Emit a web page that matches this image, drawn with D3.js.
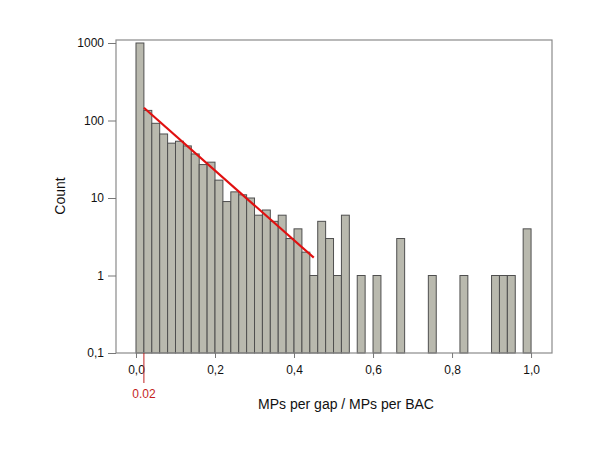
<!DOCTYPE html>
<html>
<head>
<meta charset="utf-8">
<script src="https://cdn.jsdelivr.net/npm/d3@7"></script>
<style>
  body { margin: 0; background: #fff; }
  text { font-family: "Liberation Sans", Arial, sans-serif; }
</style>
</head>
<body>
<svg id="chart"></svg>
<script>
const svgWidth = 600;
const svgHeight = 450;

// histogram: bins of 0.02 from 0 to 1
const binStarts = d3.range(50).map(i => +(i * 0.02).toFixed(2));
const counts = [1000, 135, 92, 67, 51, 54, 47, 37, 27, 29,
                17, 9, 12, 11, 10, 6, 7, 5, 6, 3,
                4, 2, 1, 5, 3, 1, 6, 0, 1, 0,
                1, 0, 0, 3, 0, 0, 0, 1, 0, 0,
                0, 1, 0, 0, 0, 1, 1, 1, 0, 4];
const binWidth = 0.02;

// fitted exponential decay (red line)
const fitX = [0.02, 0.45];
const fitY = [146, 1.7];

const xTicks = [0, 0.2, 0.4, 0.6, 0.8, 1.0];
const yTicks = [0.1, 1, 10, 100, 1000];
const markerX = 0.02;

const frame = {left: 116, right: 552, top: 40, bottom: 353};

const svg = d3.select("#chart")
	.attr("width", svgWidth)
	.attr("height", svgHeight);

const xScale = d3.scaleLinear()
	.domain([-0.0506, 1.053])
	.range([frame.left, frame.right]);
const yScale = d3.scaleLog()
	.domain([0.1, 1000])
	.range([frame.bottom, 43]);

const commaFmt = d => d3.format(".1f")(d).replace(".", ",");

// bars
svg.append("g")
	.selectAll("rect")
	.data(binStarts.map((b, i) => ({x: b, c: counts[i]})).filter(d => d.c > 0))
	.enter()
	.append("rect")
		.attr("x", d => xScale(d.x))
		.attr("y", d => yScale(d.c))
		.attr("width", d => xScale(d.x + binWidth) - xScale(d.x))
		.attr("height", d => yScale(0.1) - yScale(d.c))
		.attr("fill", "#b9b9ae")
		.attr("stroke", "#4f4f4f")
		.attr("stroke-width", 1);

// frame
svg.append("rect")
	.attr("x", frame.left)
	.attr("y", frame.top)
	.attr("width", frame.right - frame.left)
	.attr("height", frame.bottom - frame.top)
	.attr("fill", "none")
	.attr("stroke", "#8a8a8a")
	.attr("stroke-width", 1.2);

// x axis
let xAxis = d3.axisBottom(xScale)
	.tickValues(xTicks)
	.tickSize(5)
	.tickSizeOuter(0)
	.tickFormat(commaFmt);
let gx = svg.append("g")
	.attr("transform", `translate(0, ${frame.bottom})`)
	.call(xAxis);
gx.select(".domain").remove();
gx.selectAll("line").attr("stroke", "#777");
gx.selectAll("text")
	.attr("font-size", "12px")
	.attr("fill", "#111")
	.attr("dy", "1.1em");

// y axis
let yAxis = d3.axisLeft(yScale)
	.tickValues(yTicks)
	.tickSize(8)
	.tickSizeOuter(0)
	.tickFormat(d => d < 1 ? "0,1" : d3.format("d")(d));
let gy = svg.append("g")
	.attr("transform", `translate(${frame.left}, 0)`)
	.call(yAxis);
gy.select(".domain").remove();
gy.selectAll("line").attr("stroke", "#777");
gy.selectAll("text")
	.attr("font-size", "12px")
	.attr("fill", "#111")
	.attr("x", -12);

// fit line
svg.append("line")
	.attr("x1", xScale(fitX[0]))
	.attr("y1", yScale(fitY[0]))
	.attr("x2", xScale(fitX[1]))
	.attr("y2", yScale(fitY[1]))
	.attr("stroke", "#e01010")
	.attr("stroke-width", 2.2);

// 0.02 marker
svg.append("line")
	.attr("x1", xScale(markerX))
	.attr("x2", xScale(markerX))
	.attr("y1", frame.bottom)
	.attr("y2", 383)
	.attr("stroke", "#c02020")
	.attr("stroke-width", 1);
svg.append("text")
	.text("0.02")
	.attr("x", xScale(markerX))
	.attr("y", 398)
	.attr("text-anchor", "middle")
	.attr("font-size", "12px")
	.attr("fill", "#c41e1e");

// axis titles
svg.append("text")
	.text("MPs per gap / MPs per BAC")
	.attr("x", 346)
	.attr("y", 409)
	.attr("text-anchor", "middle")
	.attr("font-size", "14px")
	.attr("fill", "#111");

svg.append("text")
	.text("Count")
	.attr("transform", "rotate(-90)")
	.attr("x", -196)
	.attr("y", 65)
	.attr("text-anchor", "middle")
	.attr("font-size", "14px")
	.attr("fill", "#111");
</script>
</body>
</html>
